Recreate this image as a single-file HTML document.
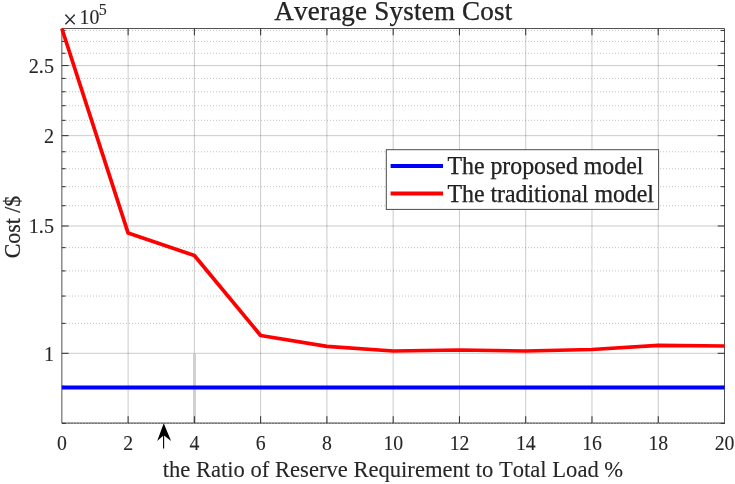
<!DOCTYPE html>
<html lang="en"><head><meta charset="utf-8"><title>Average System Cost</title>
<style>html,body{margin:0;padding:0;background:#fff;}body{width:735px;height:484px;overflow:hidden;}svg{display:block;}text{font-family:"Liberation Serif","Times New Roman",serif;fill:#262626;stroke:#262626;stroke-width:0.1;font-kerning:none;}</style></head><body>
<svg width="735" height="484" viewBox="0 0 735 484">
<rect x="0" y="0" width="735" height="484" fill="#fff"/>
<g stroke="#262626" stroke-opacity="0.28" stroke-width="1" stroke-dasharray="1 2" fill="none">
<line x1="63" y1="386.38" x2="724.5" y2="386.38"/>
<line x1="63" y1="323.37" x2="724.5" y2="323.37"/>
<line x1="63" y1="296.05" x2="724.5" y2="296.05"/>
<line x1="63" y1="270.92" x2="724.5" y2="270.92"/>
<line x1="63" y1="247.65" x2="724.5" y2="247.65"/>
<line x1="63" y1="205.72" x2="724.5" y2="205.72"/>
<line x1="63" y1="186.69" x2="724.5" y2="186.69"/>
<line x1="63" y1="168.74" x2="724.5" y2="168.74"/>
<line x1="63" y1="151.76" x2="724.5" y2="151.76"/>
<line x1="63" y1="120.34" x2="724.5" y2="120.34"/>
<line x1="63" y1="105.73" x2="724.5" y2="105.73"/>
<line x1="63" y1="91.77" x2="724.5" y2="91.77"/>
<line x1="63" y1="78.41" x2="724.5" y2="78.41"/>
<line x1="63" y1="53.27" x2="724.5" y2="53.27"/>
<line x1="63" y1="41.42" x2="724.5" y2="41.42"/>
<line x1="63" y1="30.40" x2="724.5" y2="30.40"/>
</g>
<g stroke="#262626" stroke-opacity="0.24" stroke-width="1" fill="none">
<line x1="128.12" y1="28.5" x2="128.12" y2="423.0"/>
<line x1="194.38" y1="28.5" x2="194.38" y2="423.0"/>
<line x1="260.64" y1="28.5" x2="260.64" y2="423.0"/>
<line x1="326.91" y1="28.5" x2="326.91" y2="423.0"/>
<line x1="393.18" y1="28.5" x2="393.18" y2="423.0"/>
<line x1="459.44" y1="28.5" x2="459.44" y2="423.0"/>
<line x1="525.71" y1="28.5" x2="525.71" y2="423.0"/>
<line x1="591.97" y1="28.5" x2="591.97" y2="423.0"/>
<line x1="658.24" y1="28.5" x2="658.24" y2="423.0"/>
<line x1="61.85" y1="353.30" x2="724.5" y2="353.30"/>
<line x1="61.85" y1="225.99" x2="724.5" y2="225.99"/>
<line x1="61.85" y1="135.66" x2="724.5" y2="135.66"/>
<line x1="61.85" y1="65.59" x2="724.5" y2="65.59"/>
</g>
<line x1="194.5" y1="353.30" x2="194.5" y2="423.0" stroke="#d0d0d0" stroke-width="3"/>
<g stroke="#525252" stroke-width="1" fill="none">
<path d="M61.85 423.0 L61.85 28.5 L724.5 28.5 L724.5 423.0 Z"/>
</g>
<g stroke="#2e2e2e" stroke-width="1" fill="none">
<line x1="128.12" y1="423.0" x2="128.12" y2="416.2"/>
<line x1="128.12" y1="28.5" x2="128.12" y2="35.3"/>
<line x1="194.38" y1="423.0" x2="194.38" y2="416.2"/>
<line x1="194.38" y1="28.5" x2="194.38" y2="35.3"/>
<line x1="260.64" y1="423.0" x2="260.64" y2="416.2"/>
<line x1="260.64" y1="28.5" x2="260.64" y2="35.3"/>
<line x1="326.91" y1="423.0" x2="326.91" y2="416.2"/>
<line x1="326.91" y1="28.5" x2="326.91" y2="35.3"/>
<line x1="393.18" y1="423.0" x2="393.18" y2="416.2"/>
<line x1="393.18" y1="28.5" x2="393.18" y2="35.3"/>
<line x1="459.44" y1="423.0" x2="459.44" y2="416.2"/>
<line x1="459.44" y1="28.5" x2="459.44" y2="35.3"/>
<line x1="525.71" y1="423.0" x2="525.71" y2="416.2"/>
<line x1="525.71" y1="28.5" x2="525.71" y2="35.3"/>
<line x1="591.97" y1="423.0" x2="591.97" y2="416.2"/>
<line x1="591.97" y1="28.5" x2="591.97" y2="35.3"/>
<line x1="658.24" y1="423.0" x2="658.24" y2="416.2"/>
<line x1="658.24" y1="28.5" x2="658.24" y2="35.3"/>
<line x1="61.85" y1="423.37" x2="65.65" y2="423.37"/>
<line x1="725.0" y1="423.37" x2="720.7" y2="423.37"/>
<line x1="61.85" y1="386.38" x2="65.65" y2="386.38"/>
<line x1="725.0" y1="386.38" x2="720.7" y2="386.38"/>
<line x1="61.85" y1="353.30" x2="68.65" y2="353.30"/>
<line x1="725.0" y1="353.30" x2="717.7" y2="353.30"/>
<line x1="61.85" y1="323.37" x2="65.65" y2="323.37"/>
<line x1="725.0" y1="323.37" x2="720.7" y2="323.37"/>
<line x1="61.85" y1="296.05" x2="65.65" y2="296.05"/>
<line x1="725.0" y1="296.05" x2="720.7" y2="296.05"/>
<line x1="61.85" y1="270.92" x2="65.65" y2="270.92"/>
<line x1="725.0" y1="270.92" x2="720.7" y2="270.92"/>
<line x1="61.85" y1="247.65" x2="65.65" y2="247.65"/>
<line x1="725.0" y1="247.65" x2="720.7" y2="247.65"/>
<line x1="61.85" y1="225.99" x2="68.65" y2="225.99"/>
<line x1="725.0" y1="225.99" x2="717.7" y2="225.99"/>
<line x1="61.85" y1="205.72" x2="65.65" y2="205.72"/>
<line x1="725.0" y1="205.72" x2="720.7" y2="205.72"/>
<line x1="61.85" y1="186.69" x2="65.65" y2="186.69"/>
<line x1="725.0" y1="186.69" x2="720.7" y2="186.69"/>
<line x1="61.85" y1="168.74" x2="65.65" y2="168.74"/>
<line x1="725.0" y1="168.74" x2="720.7" y2="168.74"/>
<line x1="61.85" y1="151.76" x2="65.65" y2="151.76"/>
<line x1="725.0" y1="151.76" x2="720.7" y2="151.76"/>
<line x1="61.85" y1="135.66" x2="68.65" y2="135.66"/>
<line x1="725.0" y1="135.66" x2="717.7" y2="135.66"/>
<line x1="61.85" y1="120.34" x2="65.65" y2="120.34"/>
<line x1="725.0" y1="120.34" x2="720.7" y2="120.34"/>
<line x1="61.85" y1="105.73" x2="65.65" y2="105.73"/>
<line x1="725.0" y1="105.73" x2="720.7" y2="105.73"/>
<line x1="61.85" y1="91.77" x2="65.65" y2="91.77"/>
<line x1="725.0" y1="91.77" x2="720.7" y2="91.77"/>
<line x1="61.85" y1="78.41" x2="65.65" y2="78.41"/>
<line x1="725.0" y1="78.41" x2="720.7" y2="78.41"/>
<line x1="61.85" y1="65.59" x2="68.65" y2="65.59"/>
<line x1="725.0" y1="65.59" x2="717.7" y2="65.59"/>
<line x1="61.85" y1="53.27" x2="65.65" y2="53.27"/>
<line x1="725.0" y1="53.27" x2="720.7" y2="53.27"/>
<line x1="61.85" y1="41.42" x2="65.65" y2="41.42"/>
<line x1="725.0" y1="41.42" x2="720.7" y2="41.42"/>
<line x1="61.85" y1="30.40" x2="65.65" y2="30.40"/>
<line x1="725.0" y1="30.40" x2="720.7" y2="30.40"/>
</g>
<line x1="61.85" y1="423.5" x2="724.5" y2="423.5" stroke="#303030" stroke-opacity="0.45" stroke-width="1" stroke-dasharray="2 1"/>
<line x1="61.85" y1="387.4" x2="724.5" y2="387.4" stroke="#0000ff" stroke-width="4"/>
<polyline fill="none" stroke="#ff0000" stroke-width="3.7" stroke-linejoin="round" points="61.85,28.5 128.12,233.1 194.38,255.5 260.64,335.5 326.91,346.3 393.18,351 459.44,350 525.71,351 591.97,349.5 658.24,345.3 724.50,346"/>
<g font-size="21.5" text-anchor="middle">
<text transform="translate(61.95,449.9) scale(0.92,1)">0</text>
<text transform="translate(128.22,449.9) scale(0.92,1)">2</text>
<text transform="translate(194.48,449.9) scale(0.92,1)">4</text>
<text transform="translate(260.75,449.9) scale(0.92,1)">6</text>
<text transform="translate(327.01,449.9) scale(0.92,1)">8</text>
<text transform="translate(393.28,449.9) scale(0.92,1)">10</text>
<text transform="translate(459.54,449.9) scale(0.92,1)">12</text>
<text transform="translate(525.81,449.9) scale(0.92,1)">14</text>
<text transform="translate(592.07,449.9) scale(0.92,1)">16</text>
<text transform="translate(658.34,449.9) scale(0.92,1)">18</text>
<text transform="translate(724.60,449.9) scale(0.92,1)">20</text>
</g>
<g font-size="21.5" text-anchor="end">
<text transform="translate(54.0,360.80) scale(0.94,1)">1</text>
<text transform="translate(54.0,233.49) scale(0.94,1)">1.5</text>
<text transform="translate(54.0,143.16) scale(0.94,1)">2</text>
<text transform="translate(54.0,73.09) scale(0.94,1)">2.5</text>
</g>
<text x="63.1" y="27.6" font-size="25">×</text><text x="79.5" y="24.3" font-size="21.6" textLength="19.8" lengthAdjust="spacingAndGlyphs">10</text><text x="98.8" y="15" font-size="16">5</text>
<text x="274.3" y="19.5" font-size="27" textLength="238" lengthAdjust="spacing" fill="#000" style="stroke:#000;stroke-width:0.25">Average System Cost</text>
<text x="162.7" y="476.9" font-size="23.8" textLength="460.5" lengthAdjust="spacingAndGlyphs">the Ratio of Reserve Requirement to Total Load %</text>
<text transform="translate(20.1,258.3) rotate(-90)" font-size="23.8" style="stroke-width:0.25" textLength="62.6" lengthAdjust="spacingAndGlyphs">Cost /$</text>
<rect x="386.3" y="149.7" width="272.3" height="59.7" fill="#fff" stroke="#4a4a4a" stroke-width="1"/>
<line x1="390.6" y1="166.1" x2="443" y2="166.1" stroke="#0000ff" stroke-width="4"/>
<line x1="390.6" y1="193.5" x2="443" y2="193.5" stroke="#ff0000" stroke-width="4"/>
<text x="447.4" y="174.2" font-size="24.3" fill="#000" style="stroke:#000;stroke-width:0.25" textLength="196" lengthAdjust="spacingAndGlyphs">The proposed model</text>
<text x="447.4" y="201.7" font-size="24.3" fill="#000" style="stroke:#000;stroke-width:0.25" textLength="206.6" lengthAdjust="spacingAndGlyphs">The traditional model</text>
<path d="M163.7 423.3 L171.1 441 L163.7 435.2 L157.2 441 Z" fill="#000"/><line x1="163.6" y1="434" x2="163.6" y2="448.6" stroke="#000" stroke-width="1.1"/>
</svg></body></html>
